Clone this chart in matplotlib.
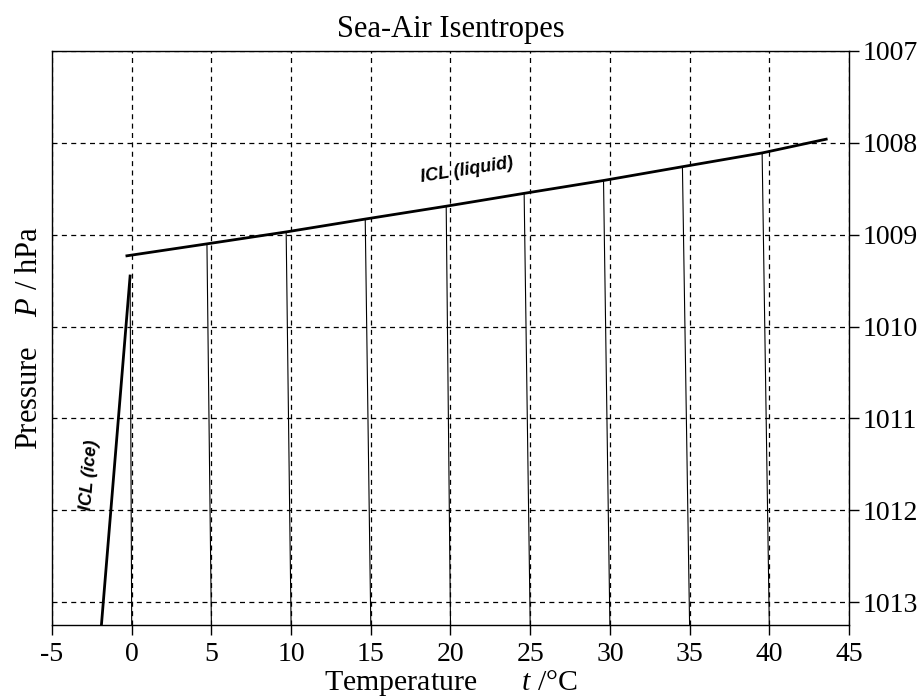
import matplotlib
matplotlib.use("Agg")
import matplotlib.pyplot as plt

plt.rcParams['font.family'] = ['Liberation Serif', 'DejaVu Serif']
plt.rcParams['mathtext.fontset'] = 'custom'
plt.rcParams['mathtext.rm'] = 'Liberation Serif'
plt.rcParams['mathtext.it'] = 'Liberation Serif:italic'
plt.rcParams['axes.unicode_minus'] = False

# Data
t_sea = [0, 5, 10, 15, 20, 25, 30, 35, 40]
p_sea = 1013.25
t_top = [-0.1, 4.72, 9.69, 14.65, 19.73, 24.62, 29.6, 34.55, 39.55]
p_top = [1009.45, 1009.10, 1008.97, 1008.83, 1008.69, 1008.55, 1008.41, 1008.26, 1008.11]

icl_liq_t = [-0.3, 4.72, 9.69, 14.65, 19.73, 24.62, 29.6, 34.55, 39.55, 43.57]
icl_liq_p = [1009.23, 1009.10, 1008.97, 1008.83, 1008.69, 1008.55, 1008.41, 1008.26, 1008.11, 1007.96]

icl_ice_t = [-1.9, -0.1]
icl_ice_p = [1013.25, 1009.45]

xticks = [-5, 0, 5, 10, 15, 20, 25, 30, 35, 40, 45]
yticks = [1007, 1008, 1009, 1010, 1011, 1012, 1013]

fig = plt.figure(figsize=(9.18, 7.0), dpi=100)
ax = fig.add_axes([52/918, 1-625/700, (849-52)/918, (625-51)/700])

ax.set_xlim(-5, 45)
ax.set_ylim(1013.25, 1007)
ax.set_xticks(xticks)
ax.set_yticks(yticks)
ax.yaxis.tick_right()
ax.yaxis.set_label_position('left')
ax.tick_params(axis='both', direction='out', length=7, width=1, labelsize=20, colors='black')
ax.tick_params(axis='y', pad=3)
ax.tick_params(axis='x', pad=5)
for s in ax.spines.values():
    s.set_linewidth(1.0)
    s.set_color('black')

ax.grid(True, color='black', linestyle=(0, (4, 3.5)), linewidth=0.9)
ax.set_axisbelow(True)

for ts, tt, pt in zip(t_sea, t_top, p_top):
    ax.plot([tt, ts], [pt, p_sea], color='black', lw=0.8, zorder=3)

ax.plot(icl_liq_t, icl_liq_p, color='black', lw=2.0, zorder=4)
ax.plot(icl_ice_t, icl_ice_p, color='black', lw=2.0, zorder=4)

ax.text(21.0, 1008.30, 'ICL (liquid)', family='Liberation Sans', weight='bold', style='italic',
        fontsize=13, rotation=9, ha='center', va='center', rotation_mode='anchor')
ax.text(-2.67, 1011.62, 'ICL (ice)', family='Liberation Sans', weight='bold', style='italic',
        fontsize=13, rotation=85, ha='center', va='center', rotation_mode='anchor')

ax.set_title('Sea-Air Isentropes', fontsize=22, pad=10)
ax.set_xlabel('Temperature      $t$ /°C', fontsize=21.5, labelpad=1)
ax.set_ylabel('Pressure    $P$ / hPa', fontsize=22, labelpad=6)

fig.savefig('out.png', dpi=100)
